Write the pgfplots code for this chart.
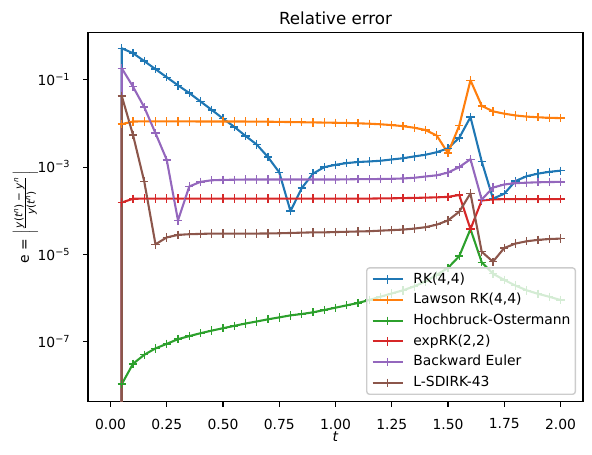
\documentclass[border=0pt]{standalone}
\usepackage{pgfplots}
\pgfplotsset{compat=1.18}
\usepackage{fontspec}
\setmainfont{DejaVu Sans}
\definecolor{c0}{HTML}{1F77B4}
\definecolor{c1}{HTML}{FF7F0E}
\definecolor{c2}{HTML}{2CA02C}
\definecolor{c3}{HTML}{D62728}
\definecolor{c4}{HTML}{9467BD}
\definecolor{c5}{HTML}{8C564B}
\definecolor{lgedge}{rgb}{0.8,0.8,0.8}
\newcommand{\fr}{\fontsize{7.5}{8}\selectfont}
\begin{document}
\begin{tikzpicture}
\begin{axis}[
  scale only axis,
  width=356.4pt, height=265.9pt,
  ymode=log,
  xmin=-0.1, xmax=2.1,
  ymin=4.15e-9, ymax=1.21,
  xtick={0,0.25,0.5,0.75,1,1.25,1.5,1.75,2},
  xticklabel style={inner sep=0pt, anchor=north, yshift=-8.4pt, /pgf/number format/fixed, /pgf/number format/fixed zerofill, /pgf/number format/precision=2, /pgf/number format/assume math mode=true},
  ytick={1e-7,1e-5,1e-3,1e-1},
  yticklabels={10\textsuperscript{−7},10\textsuperscript{−5},10\textsuperscript{−3},10\textsuperscript{−1}},
  yminorticks=false, xminorticks=false,
  tick pos=left,
  tick align=outside,
  major tick length=3.5pt,
  every tick/.style={black, line width=0.8pt},
  axis line style={line width=0.8pt},
  tick label style={font=\fontsize{10}{12}\selectfont},
  yticklabel style={inner sep=0pt, anchor=base east, xshift=-9pt, yshift=-4.2pt},
  title={Relative error},
  title style={font=\fontsize{12}{14}\selectfont, at={(axis description cs:0.5,1)}, anchor=base, inner sep=0pt},
  xlabel={\textit{t}},
  xlabel style={font=\fontsize{10}{12}\selectfont, at={(axis description cs:0.5,0)}, anchor=center, yshift=-25pt},
  ylabel={e = $\left|\frac{\mbox{\fr\itshape y\upshape(\itshape t\textsuperscript{n}\upshape) − \itshape y\textsuperscript{n}}}{\mbox{\fr\itshape y\upshape(\itshape t\textsuperscript{n}\upshape)}}\right|$},
  ylabel style={font=\fontsize{10}{12}\selectfont, at={(axis description cs:0,0.5)}, anchor=center, yshift=45pt},
  every axis plot/.append style={line width=1.5pt, mark=+, mark size=3pt, mark options={solid, line width=1pt}, line join=round},
  legend image code/.code={\draw[mark repeat=2,mark phase=2,#1] plot coordinates {(0pt,0pt) (10.8pt,0pt) (21.6pt,0pt)};},
  legend cell align=left,
  legend style={at={(1,0)}, anchor=south east, xshift=-5pt, yshift=5pt,
    font=\fontsize{10}{12}\selectfont, draw=lgedge, line width=1pt, rounded corners=2pt,
    fill=white, fill opacity=0.8, draw opacity=1, text opacity=1,
    inner xsep=3.5pt, inner ysep=3.5pt, row sep=5.4pt, column sep=7pt,
    nodes={inner sep=0pt, text height=7.5pt, text depth=2pt, anchor=west}},
]
\addplot[c0] table {
t e
0.05 1e-12
0.05 0.53
0.10 0.41
0.15 0.27
0.20 0.176
0.25 0.115
0.30 0.075
0.35 0.050
0.40 0.032
0.45 0.0205
0.50 0.013
0.55 0.0084
0.60 0.0052
0.65 0.0033
0.70 0.0017
0.75 7.6e-4
0.80 9.8e-5
0.85 3.3e-4
0.90 7.1e-4
0.95 1.0e-3
1.00 1.13e-3
1.05 1.24e-3
1.10 1.31e-3
1.15 1.35e-3
1.20 1.40e-3
1.25 1.50e-3
1.30 1.60e-3
1.35 1.76e-3
1.40 1.92e-3
1.45 2.2e-3
1.50 2.7e-3
1.55 4.7e-3
1.60 0.014
1.65 1.35e-3
1.70 1.9e-4
1.75 2.45e-4
1.80 4.8e-4
1.85 6.2e-4
1.90 7.1e-4
1.95 7.8e-4
2.00 8.3e-4
};
\addlegendentry{RK(4,4)}
\addplot[c1] table {
t e
0.05 1e-12
0.05 9.7e-3
0.10 0.0111
0.15 0.0112
0.20 0.0112
0.25 0.0112
0.30 0.0112
0.35 0.0112
0.40 0.0111
0.45 0.0111
0.50 0.0111
0.55 0.0111
0.60 0.0111
0.65 0.0110
0.70 0.0110
0.75 0.0109
0.80 0.0108
0.85 0.0107
0.90 0.0106
0.95 0.0105
1.00 0.0104
1.05 0.0103
1.10 0.0101
1.15 0.0099
1.20 0.0096
1.25 0.0092
1.30 0.0087
1.35 0.0080
1.40 0.0071
1.45 0.0053
1.50 0.0021
1.55 0.0089
1.60 0.098
1.65 0.0254
1.70 0.0190
1.75 0.0168
1.80 0.0153
1.85 0.0144
1.90 0.0139
1.95 0.0135
2.00 0.0133
};
\addlegendentry{Lawson RK(4,4)}
\addplot[c2] table {
t e
0.05 1e-12
0.05 1.06e-8
0.10 3.1e-8
0.15 5.0e-8
0.20 7.0e-8
0.25 8.9e-8
0.30 1.14e-7
0.35 1.34e-7
0.40 1.56e-7
0.45 1.79e-7
0.50 2.03e-7
0.55 2.3e-7
0.60 2.6e-7
0.65 2.9e-7
0.70 3.25e-7
0.75 3.6e-7
0.80 4.0e-7
0.85 4.3e-7
0.90 4.7e-7
0.95 5.3e-7
1.00 6.0e-7
1.05 6.8e-7
1.10 7.7e-7
1.15 9.0e-7
1.20 1.07e-6
1.25 1.27e-6
1.30 1.5e-6
1.35 1.85e-6
1.40 2.4e-6
1.45 3.4e-6
1.50 4.9e-6
1.55 9.1e-6
1.60 3.8e-5
1.65 6.6e-6
1.70 3.6e-6
1.75 2.6e-6
1.80 1.93e-6
1.85 1.5e-6
1.90 1.25e-6
1.95 1.07e-6
2.00 9.0e-7
};
\addlegendentry{Hochbruck-Ostermann}
\addplot[c3] table {
t e
0.05 1e-12
0.05 1.55e-4
0.10 1.88e-4
0.15 1.9e-4
0.20 1.9e-4
0.25 1.9e-4
0.30 1.9e-4
0.35 1.9e-4
0.40 1.9e-4
0.45 1.9e-4
0.50 1.9e-4
0.55 1.9e-4
0.60 1.9e-4
0.65 1.9e-4
0.70 1.9e-4
0.75 1.9e-4
0.80 1.9e-4
0.85 1.9e-4
0.90 1.9e-4
0.95 1.9e-4
1.00 1.9e-4
1.05 1.9e-4
1.10 1.9e-4
1.15 1.9e-4
1.20 1.92e-4
1.25 1.93e-4
1.30 1.95e-4
1.35 1.97e-4
1.40 2.0e-4
1.45 2.03e-4
1.50 2.08e-4
1.55 2.3e-4
1.60 3.8e-5
1.65 1.72e-4
1.70 1.82e-4
1.75 1.85e-4
1.80 1.85e-4
1.85 1.85e-4
1.90 1.85e-4
1.95 1.85e-4
2.00 1.85e-4
};
\addlegendentry{expRK(2,2)}
\addplot[c4] table {
t e
0.05 1e-12
0.05 0.185
0.10 0.070
0.15 0.0237
0.20 6.0e-3
0.25 1.47e-3
0.30 6.0e-5
0.35 3.6e-4
0.40 4.6e-4
0.45 5.0e-4
0.50 5.1e-4
0.55 5.15e-4
0.60 5.2e-4
0.65 5.2e-4
0.70 5.2e-4
0.75 5.2e-4
0.80 5.2e-4
0.85 5.2e-4
0.90 5.2e-4
0.95 5.2e-4
1.00 5.2e-4
1.05 5.25e-4
1.10 5.3e-4
1.15 5.3e-4
1.20 5.35e-4
1.25 5.4e-4
1.30 5.5e-4
1.35 5.7e-4
1.40 6.1e-4
1.45 6.5e-4
1.50 7.5e-4
1.55 1.0e-3
1.60 1.52e-3
1.65 1.8e-4
1.70 3.4e-4
1.75 4.0e-4
1.80 4.3e-4
1.85 4.4e-4
1.90 4.5e-4
1.95 4.55e-4
2.00 4.6e-4
};
\addlegendentry{Backward Euler}
\addplot[c5] table {
t e
0.05 1e-12
0.05 0.043
0.10 5.5e-3
0.15 4.7e-4
0.20 1.7e-5
0.25 2.45e-5
0.30 2.8e-5
0.35 2.9e-5
0.40 2.95e-5
0.45 3.0e-5
0.50 3.0e-5
0.55 3.0e-5
0.60 3.0e-5
0.65 3.0e-5
0.70 3.02e-5
0.75 3.05e-5
0.80 3.1e-5
0.85 3.15e-5
0.90 3.2e-5
0.95 3.2e-5
1.00 3.25e-5
1.05 3.3e-5
1.10 3.35e-5
1.15 3.4e-5
1.20 3.5e-5
1.25 3.6e-5
1.30 3.7e-5
1.35 3.9e-5
1.40 4.2e-5
1.45 4.8e-5
1.50 6.0e-5
1.55 9.5e-5
1.60 2.5e-4
1.65 1.15e-5
1.70 6.8e-6
1.75 1.4e-5
1.80 1.77e-5
1.85 2.0e-5
1.90 2.15e-5
1.95 2.25e-5
2.00 2.3e-5
};
\addlegendentry{L-SDIRK-43}
\end{axis}
\pgfresetboundingbox
\path ([shift={(-63.36pt,-38.2pt)}]current axis.south west) rectangle ([shift={(6.5pt,23.5pt)}]current axis.north east);
\end{tikzpicture}
\end{document}
